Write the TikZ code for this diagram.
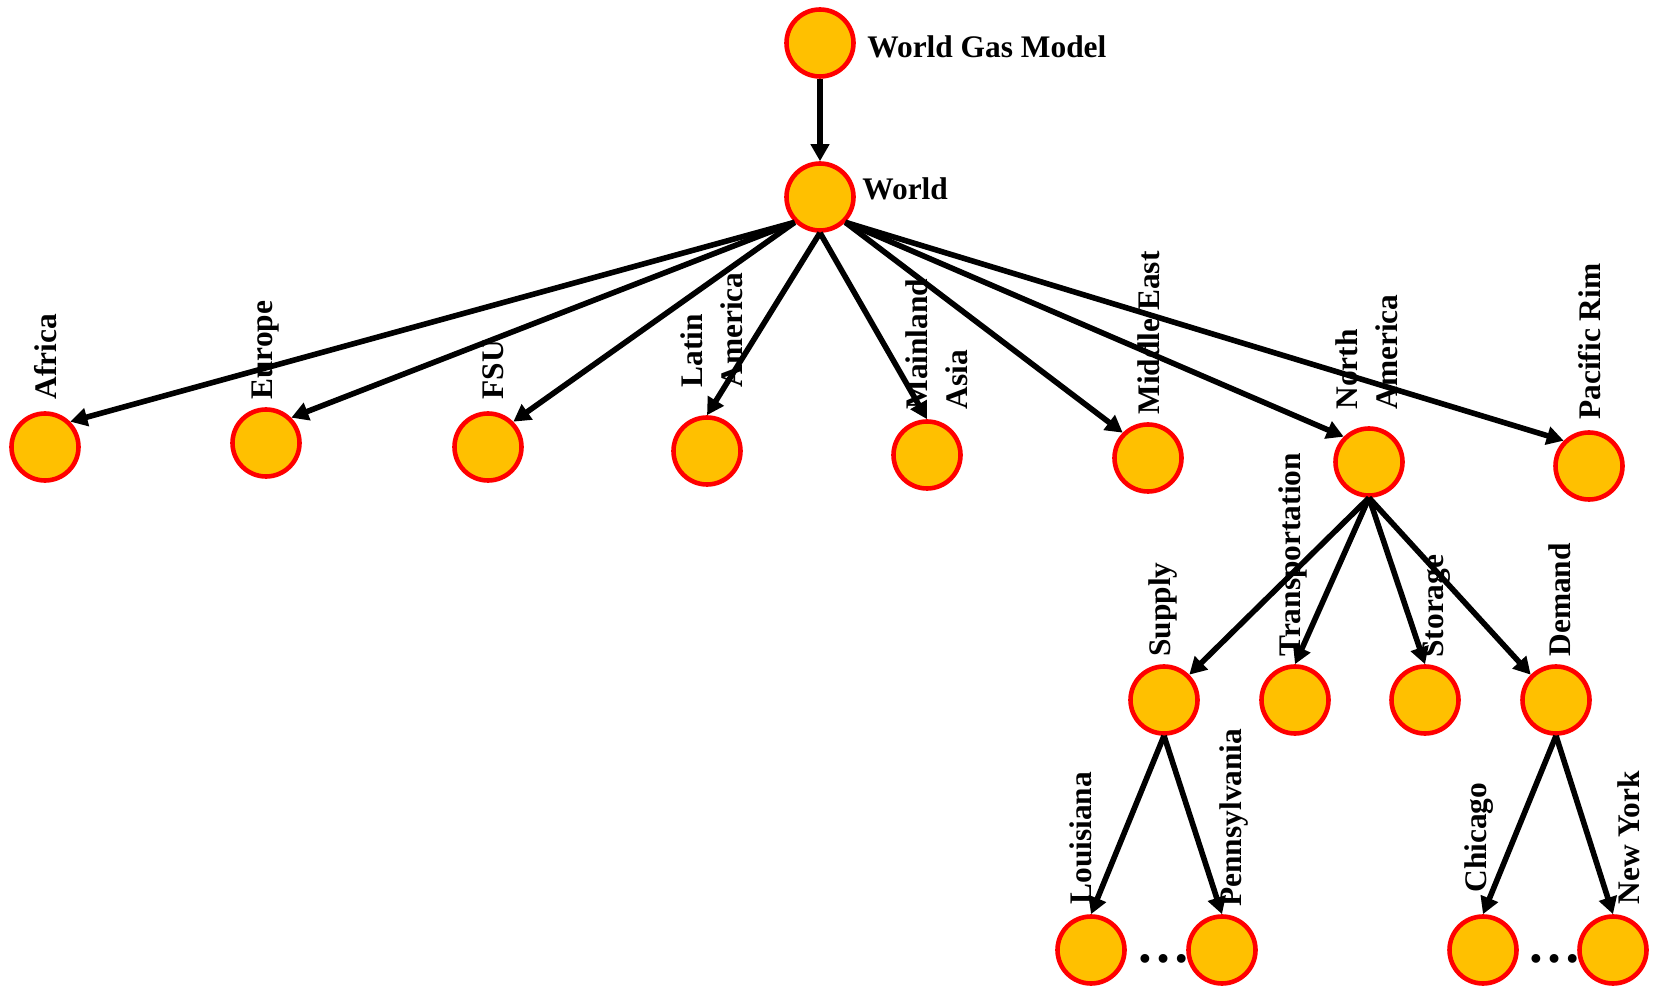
\documentclass[tikz,border=0pt]{standalone}
\usepackage{fontspec}
\setmainfont{Liberation Serif}
\usetikzlibrary{arrows.meta}
\definecolor{gasgold}{HTML}{FFC000}

\begin{document}
\begin{tikzpicture}[x=0.5pt, y=-0.5pt,
    region/.style={circle, draw=red, fill=gasgold, line width=2.3pt,
      minimum size=33.5pt, inner sep=0pt},
    title/.style={font=\bfseries\fontsize{15.7}{20}\selectfont,
      anchor=base west, inner sep=0pt},
    tag/.style={font=\bfseries\fontsize{15.7}{20}\selectfont, rotate=90,
      anchor=west, align=left, inner sep=0pt},
    etc/.style={font=\bfseries\fontsize{27}{27}\selectfont, anchor=base,
      inner sep=0pt},
    link/.style={line width=2.8pt, -{Triangle[length=8.5pt, width=9pt]}}]
  \useasboundingbox (0,0) rectangle (1660,988);
  % model and world
  \node[region] (wgm) at (820,43) {};
  \node[region] (world) at (820,197) {};
  \node[title] (wgm-t) at (867,58) {World Gas Model};
  \node[title] (world-t) at (862,200) {World};
  % regions
  \node[region] (africa) at (45,447) {};
  \node[region] (europe) at (266,443) {};
  \node[region] (fsu) at (488,447) {};
  \node[region] (latam) at (707,451) {};
  \node[region] (asia) at (927,455) {};
  \node[region] (mideast) at (1148,458) {};
  \node[region] (namerica) at (1369,462) {};
  \node[region] (pacrim) at (1589,466) {};
  \node[tag] (africa-t) at (46,400) {Africa};
  \node[tag] (europe-t) at (266,400) {Europe};
  \node[tag] (fsu-t) at (493,400) {FSU};
  \node[tag] (latam-t) at (712,388) {Latin\\America};
  \node[tag] (asia-t) at (937,410) {Mainland\\Asia};
  \node[tag] (mideast-t) at (1149,415) {Middle East};
  \node[tag] (namerica-t) at (1367,410) {North\\America};
  \node[tag] (pacrim-t) at (1590,420) {Pacific Rim};
  % sectors of north america
  \node[region] (supply) at (1164,700) {};
  \node[region] (transport) at (1295,700) {};
  \node[region] (storage) at (1425,700) {};
  \node[region] (demand) at (1556,700) {};
  \node[tag] (supply-t) at (1163,657) {Supply};
  \node[tag] (transport-t) at (1293,657) {Transportation};
  \node[tag] (storage-t) at (1437,658) {Storage};
  \node[tag] (demand-t) at (1560,657) {Demand};
  % states and cities
  \node[region] (louisiana) at (1091,950) {};
  \node[region] (penn) at (1222,950) {};
  \node[region] (chicago) at (1483,950) {};
  \node[region] (newyork) at (1613,950) {};
  \node[tag] (louisiana-t) at (1081,905) {Louisiana};
  \node[tag] (penn-t) at (1234,907) {Pennsylvania};
  \node[tag] (chicago-t) at (1479,893) {Chicago};
  \node[tag] (newyork-t) at (1629,905) {New York};
  \node[etc] (etc1) at (1163,962) {…};
  \node[etc] (etc2) at (1554,962) {…};

  \draw[link] (wgm.south) -- (world.north);
  \draw[link] (world.south west) -- (africa.north east);
  \draw[link] (world.south west) -- (europe.north east);
  \draw[link] (world.south west) -- (fsu.north east);
  \draw[link] (world.south) -- (latam.north);
  \draw[link] (world.south) -- (asia.north);
  \draw[link] (world.south east) -- (mideast.north west);
  \draw[link] (world.south east) -- (namerica.north west);
  \draw[link] (world.south east) -- (pacrim.north west);
  \draw[link] (namerica.south) -- (supply.north east);
  \draw[link] (namerica.south) -- (transport.north);
  \draw[link] (namerica.south) -- (storage.north);
  \draw[link] (namerica.south) -- (demand.north west);
  \draw[link] (supply.south) -- (louisiana.north);
  \draw[link] (supply.south) -- (penn.north);
  \draw[link] (demand.south) -- (chicago.north);
  \draw[link] (demand.south) -- (newyork.north);
\end{tikzpicture}
\end{document}
